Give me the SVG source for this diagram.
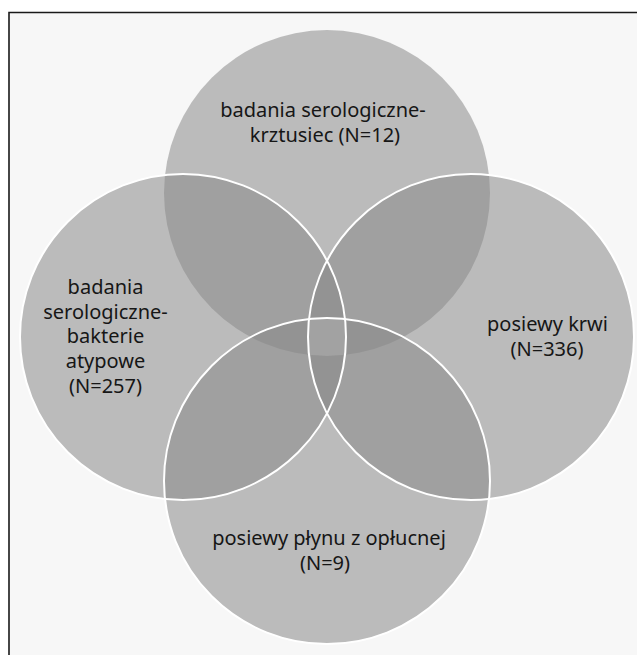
<svg xmlns="http://www.w3.org/2000/svg" width="637" height="655" viewBox="0 0 637 655">
<style>
.set{fill:#888888;fill-opacity:0.54}
.ol{fill:none;stroke:#ffffff;stroke-width:2}
.lbl{font-family:"Noto Sans","Open Sans","DejaVu Sans",sans-serif;font-size:20px;fill:#161616;text-anchor:middle}
</style>
<defs>
<clipPath id="cT"><circle cx="327" cy="193" r="163"/></clipPath>
<clipPath id="cL"><circle cx="183" cy="337" r="163"/></clipPath>
<clipPath id="cR"><circle cx="471" cy="337" r="163"/></clipPath>
</defs>
<rect x="0" y="0" width="637" height="655" fill="#ffffff"/>
<rect x="9" y="12.5" width="640" height="660" fill="#f7f7f7"/>
<path d="M9 655 V12.5 H637" fill="none" stroke="#1a1a1a" stroke-width="1.6"/>
<g id="node-top">
<circle class="set" cx="327" cy="193" r="163"/>
<text class="lbl"><tspan x="323" y="117">badania serologiczne-</tspan><tspan x="325" y="142">krztusiec (N=12)</tspan></text>
</g>
<g id="node-left">
<circle class="set" cx="183" cy="337" r="163"/>
<text class="lbl"><tspan x="105.5" y="293.5">badania</tspan><tspan x="105.5" y="318.5">serologiczne-</tspan><tspan x="105.5" y="343">bakterie</tspan><tspan x="105.5" y="367.5">atypowe</tspan><tspan x="105.5" y="392.5">(N=257)</tspan></text>
</g>
<g id="node-right">
<circle class="set" cx="471" cy="337" r="163"/>
<text class="lbl"><tspan x="547.5" y="331">posiewy krwi</tspan><tspan x="547" y="356">(N=336)</tspan></text>
</g>
<g id="node-bottom">
<circle class="set" cx="327" cy="481" r="163"/>
<text class="lbl"><tspan x="329" y="545">posiewy płynu z opłucnej</tspan><tspan x="325" y="570">(N=9)</tspan></text>
</g>
<g id="center-overlap" clip-path="url(#cT)">
<g clip-path="url(#cL)">
<g clip-path="url(#cR)">
<circle cx="327" cy="481" r="163" fill="#a2a2a2"/>
</g>
</g>
</g>
<g id="connectors">
<circle class="ol" cx="183" cy="337" r="163"/>
<circle class="ol" cx="471" cy="337" r="163"/>
<circle class="ol" cx="327" cy="481" r="163"/>
</g>
</svg>
